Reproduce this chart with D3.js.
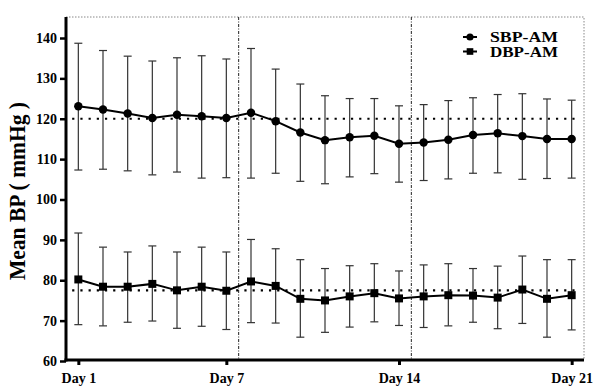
<!DOCTYPE html>
<html><head><meta charset="utf-8">
<script src="https://cdn.jsdelivr.net/npm/d3@7"></script>
<style>
html,body{margin:0;padding:0;background:#fff;}
svg text{font-family:"Liberation Serif","Times New Roman",serif;font-weight:bold;fill:#000;}
</style></head>
<body><svg id="c" width="600" height="392"></svg>
<script>
const days = [1,2,3,4,5,6,7,8,9,10,11,12,13,14,15,16,17,18,19,20,21];
const xTickDays = [1,7,14,21];
const yTicks = [60,70,80,90,100,110,120,130,140];
const sbpMean  = [123.1,122.3,121.3,120.2,121.0,120.6,120.2,121.5,119.4,116.6,114.7,115.4,115.8,113.8,114.1,114.8,116.0,116.4,115.7,115.0,115.0];
const sbpUpper = [138.7,136.9,135.5,134.3,135.1,135.6,134.8,137.4,132.3,128.6,125.7,125.0,125.0,123.2,123.5,124.5,125.2,126.0,126.2,124.9,124.6];
const sbpLower = [107.3,107.5,107.1,106.1,106.8,105.3,105.4,105.3,106.5,104.5,103.9,105.6,106.4,104.3,104.7,105.1,106.5,106.6,105.0,105.2,105.3];
const dbpMean  = [80.2,78.4,78.4,79.1,77.5,78.4,77.4,79.7,78.6,75.4,75.0,76.0,76.8,75.5,76.0,76.3,76.2,75.7,77.7,75.4,76.3];
const dbpUpper = [91.7,88.2,87.0,88.5,87.0,88.2,87.0,90.1,87.8,85.1,82.9,83.6,84.1,82.3,83.8,84.1,82.9,83.5,86.0,85.1,85.1];
const dbpLower = [69.0,68.7,69.6,69.9,68.1,68.6,67.8,69.5,69.4,65.9,67.1,68.4,69.7,68.8,68.3,68.7,69.6,68.0,69.3,65.9,67.7];
const refLines = [120, 77.5];
const separators = [7.5, 14.5];
const seriesNames = ["SBP-AM","DBP-AM"];

const svg = d3.select("#c");
const L = 66, R = 584, T = 17, B = 360;
const x = d3.scaleLinear().domain([0.5,21.5]).range([L,R]);
const y = d3.scaleLinear().domain([60,145.2]).range([361,T]);

// dotted frame (top & right)
svg.append("path").attr("d",`M${L},${T}H${R}V${B}`)
  .attr("fill","none").attr("stroke","#888").attr("stroke-width",1).attr("stroke-dasharray","1.5,1.5");

// separators
svg.selectAll(".sep").data(separators).join("line")
  .attr("x1",d=>x(d)).attr("x2",d=>x(d)).attr("y1",T).attr("y2",B)
  .attr("stroke","#222").attr("stroke-width",1).attr("stroke-dasharray","3,1.5,1,1.5");

// reference lines
svg.selectAll(".ref").data(refLines).join("line")
  .attr("x1",x(0.75)).attr("x2",x(21.25)).attr("y1",d=>y(d)).attr("y2",d=>y(d))
  .attr("stroke","#000").attr("stroke-width",2.2).attr("stroke-dasharray","2.2,6")
  .attr("stroke-linecap","butt");

function drawSeries(mean, up, lo, shape){
  const g = svg.append("g");
  const eb = g.selectAll("g").data(days).join("g").attr("stroke","#333").attr("stroke-width",1.2);
  eb.append("line").attr("x1",d=>x(d)).attr("x2",d=>x(d)).attr("y1",(d,i)=>y(up[i])).attr("y2",(d,i)=>y(lo[i]));
  eb.append("line").attr("x1",d=>x(d)-4).attr("x2",d=>x(d)+4).attr("y1",(d,i)=>y(up[i])).attr("y2",(d,i)=>y(up[i]));
  eb.append("line").attr("x1",d=>x(d)-4).attr("x2",d=>x(d)+4).attr("y1",(d,i)=>y(lo[i])).attr("y2",(d,i)=>y(lo[i]));
  g.append("path").datum(days).attr("fill","none").attr("stroke","#000").attr("stroke-width",2)
    .attr("d", d3.line().x(d=>x(d)).y((d,i)=>y(mean[i])));
  const sym = d3.symbol().type(shape==="circle"?d3.symbolCircle:d3.symbolSquare).size(shape==="circle"?56:64);
  g.selectAll("path.m").data(days).join("path").attr("class","m")
    .attr("transform",(d,i)=>`translate(${x(d)},${y(mean[i])})`).attr("d",sym).attr("fill","#000");
}
drawSeries(sbpMean,sbpUpper,sbpLower,"circle");
drawSeries(dbpMean,dbpUpper,dbpLower,"square");

// axes
const ya = svg.append("g").attr("transform",`translate(${L},0)`)
  .call(d3.axisLeft(y).tickValues(yTicks).tickSize(6).tickPadding(3).tickFormat(d3.format("d")));
ya.select(".domain").attr("d",`M0,${T}V${B+1.5}`).attr("stroke","#000").attr("stroke-width",3);
ya.selectAll(".tick line").attr("stroke","#000").attr("stroke-width",2.5);
ya.selectAll(".tick text").attr("font-size",14).attr("font-family","Liberation Serif").attr("font-weight","bold").attr("fill","#000");

const xa = svg.append("g").attr("transform",`translate(0,${B})`)
  .call(d3.axisBottom(x).tickValues(xTickDays).tickSize(5).tickPadding(8).tickFormat(d=>"Day "+d));
xa.select(".domain").attr("d",`M${L-1.5},0H${R}`).attr("stroke","#000").attr("stroke-width",3);
xa.selectAll(".tick line").attr("stroke","#000").attr("stroke-width",3);
xa.selectAll(".tick text").attr("font-size",14).attr("font-family","Liberation Serif").attr("font-weight","bold").attr("fill","#000");

// y title
svg.append("text").attr("transform","translate(25,191) rotate(-90)")
  .attr("text-anchor","middle").attr("font-size",24)
  .attr("textLength",178).attr("lengthAdjust","spacingAndGlyphs")
  .text("Mean BP ( mmHg )");

// legend
const leg = svg.append("g");
const legY = [37, 51.5];
seriesNames.forEach((n,i)=>{
  leg.append("line").attr("x1",463).attr("x2",477).attr("y1",legY[i]).attr("y2",legY[i]).attr("stroke","#000").attr("stroke-width",2);
  leg.append("path").attr("transform",`translate(470,${legY[i]})`)
    .attr("d",d3.symbol().type(i===0?d3.symbolCircle:d3.symbolSquare).size(i===0?40:44)).attr("fill","#000");
  leg.append("text").attr("x",490).attr("y",legY[i]+5).attr("font-size",14)
    .attr("textLength",68).attr("lengthAdjust","spacingAndGlyphs").text(n);
});
</script></body></html>
